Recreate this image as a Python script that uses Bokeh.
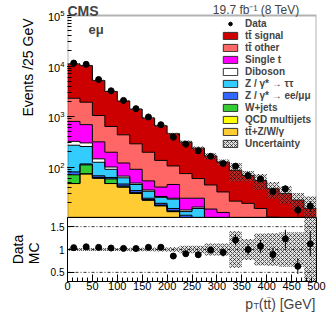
import numpy as np
from math import log10
from bokeh.plotting import figure
from bokeh.layouts import column
from bokeh.models import (Range1d, Span, Label, Legend, LegendItem, Title,
                          SingleIntervalTicker, FixedTicker, BoxAnnotation)
from bokeh.embed import file_html
from bokeh.resources import INLINE

# ---------------- data ----------------
bin_edges = [0, 25, 50, 75, 100, 125, 150, 175, 200, 225, 250,
             275, 300, 325, 350, 375, 400, 425, 450, 475, 500]

tt_signal = [8700, 8280, 4113, 2496, 1596, 1112, 739, 520, 350, 238,
             177, 121, 93, 65, 49, 39, 27, 21, 15, 9]
tt_other = [1500, 1230, 732, 438, 314, 198, 143, 95, 60, 50,
            35, 29.4, 19.5, 12, 11, 9, 5.5, 5, 4, 3.5]
single_t = [478, 390, 170, 96, 54, 42, 18, 14, 21, 10,
            8, 5.6, 5.5, 3.2, 3.3, 2.0, 1.5, 1.5, 0.9, 0.9]
diboson = [52, 45, 21, 10, 5, 3, 2, 1, 1, 1,
           1, 1, 1, 0.8, 0.7, 0.6, 0.5, 0.4, 0.4, 0.3]
z_tautau = [190, 140, 57, 28, 15, 11, 9, 6, 8, 2,
            6.5, 2, 1.4, 1.5, 1.2, 1, 0.8, 0.6, 0.5, 0.4]
z_eemumu = [10, 5, 5, 4, 4, 3, 1.5, 1.5, 1.5, 1.5,
            1.2, 0.8, 0.5, 0.4, 0.3, 0.3, 0.2, 0.2, 0.2, 0.1]
w_jets = [23, 37, 2, 11, 2, 1, 0.5, 0.5, 0.5, 0.5,
          0.3, 0.2, 0.1, 0.1, 0.1, 0.1, 0.05, 0.05, 0.05, 0.05]
qcd = [0, 0, 0, 0, 0, 0, 0, 0, 0, 0,
       0, 0, 0, 0, 0, 0, 0, 0, 0, 0]
ttv = [47, 73, 60, 47, 40, 30, 22, 17, 13, 9,
       7, 5, 4, 3, 2.4, 2, 1.5, 1.2, 1, 0.8]

data = [11450, 10800, 5400, 3230, 2080, 1430, 980, 688, 390, 283,
        209, 163, 117, 104, 68, 58, 33, 37, 14, 17]

rel_unc = [0.035, 0.035, 0.035, 0.035, 0.035, 0.04, 0.04, 0.045, 0.05, 0.08,
           0.08, 0.13, 0.13, 0.40, 0.23, 0.35, 0.36, 0.38, 0.38, 0.75]

x_ticks_interval = 50
ratio_ticks = [0.5, 1.0, 1.5]
y_min, y_max = 10.01, 1e5

# stack order: bottom -> top
layers = [
    ("t\u0074\u0304+Z/W/\u03b3", ttv, "#ffcc33"),
    ("QCD multijets", qcd, "#ffff00"),
    ("W+jets", w_jets, "#33cc33"),
    ("Z / \u03b3* \u2192 ee/\u03bc\u03bc", z_eemumu, "#3366ff"),
    ("Z / \u03b3* \u2192 \u03c4\u03c4", z_tautau, "#33ccff"),
    ("Diboson", diboson, "#ffffff"),
    ("Single t", single_t, "#ff00ff"),
    ("t\u0074\u0304 other", tt_other, "#ff6666"),
    ("t\u0074\u0304 signal", tt_signal, "#cc0000"),
]

FONT = "Liberation Sans"
W = 332
LB, RB = 67, 16            # left / right borders -> frame spans x 67..316
MAIN_H, TOP_PAD = 217, 15  # main canvas height; strip above the data box for CMS / lumi
edges = np.array(bin_edges, dtype=float)
left = edges[:-1]
right = edges[1:]
centers = (left + right) / 2

# extend the log range upward so the CMS / lumi line sits inside the frame
decade_px = (MAIN_H - TOP_PAD) / (log10(y_max) - log10(y_min))
y_top = 10 ** (log10(y_max) + TOP_PAD / decade_px)

# ---------------- main panel ----------------
p = figure(width=W, height=MAIN_H, x_range=Range1d(0, 500), y_range=Range1d(y_min, y_top),
           y_axis_type="log", output_backend="svg", toolbar_location=None,
           x_axis_location=None,
           min_border_left=LB, min_border_right=RB, min_border_top=0, min_border_bottom=0)
p.grid.visible = False
p.outline_line_color = None

bottom = np.full(len(left), 0.1)
layer_bounds = []
for name, vals, col in layers:
    top = bottom + np.array(vals, dtype=float)
    p.varea_step(x=edges, y1=np.append(bottom, bottom[-1]), y2=np.append(top, top[-1]),
                 step_mode="after", fill_color=col)
    layer_bounds.append((bottom, top))
    bottom = top
total = bottom

for b, top in layer_bounds:
    p.step(x=edges, y=np.append(top, top[-1]), mode="after", line_color="black", line_width=1)

unc = total * np.array(rel_unc)
hatch_kw = dict(hatch_pattern="diagonal_cross", hatch_color="black", hatch_scale=4,
                hatch_weight=0.7, hatch_alpha=0.85)
band = p.quad(left=left, right=right, bottom=total - unc, top=total + unc,
              fill_color="#888888", fill_alpha=0.25, line_color=None, **hatch_kw)

d = np.array(data, dtype=float)
derr = np.sqrt(d)
p.segment(x0=centers, y0=d - derr, x1=centers, y1=d + derr, line_color="black", line_width=1)
dr = p.scatter(centers, d, size=6, marker="circle", color="black")

# panel box (frame is taller than the data box)
p.add_layout(BoxAnnotation(left=0, right=500, bottom=y_min, top=y_max,
                           fill_alpha=0, line_color="black", line_width=2))

p.yaxis.axis_line_color = None
p.yaxis.major_tick_in = 7
p.yaxis.major_tick_out = 0
p.yaxis.minor_tick_in = 4
p.yaxis.minor_tick_out = 0
p.yaxis.major_label_text_font_size = "11px"
p.yaxis.major_label_text_font = FONT
p.yaxis.major_label_text_color = "black"
p.yaxis.major_label_standoff = 3

p.add_layout(Title(text="Events /25 GeV", align="right", offset=18, standoff=18,
                   text_font=FONT, text_font_size="14px", text_font_style="normal",
                   text_color="black"), "left")

# legend: hidden copies of each layer drawn with a border give the legend boxes
items = [LegendItem(label="Data", renderers=[dr])]
for (name, vals, col), (b, top) in zip(reversed(layers), reversed(layer_bounds)):
    proxy = p.quad(left=left, right=right, top=top, bottom=b, fill_color=col,
                   line_color="#333333", line_width=1, visible=False)
    items.append(LegendItem(label=name, renderers=[proxy]))
band_proxy = p.quad(left=left, right=right, bottom=total - unc, top=total + unc,
                    fill_color="#888888", fill_alpha=0.25, line_color="#333333",
                    visible=False, **hatch_kw)
items.append(LegendItem(label="Uncertainty", renderers=[band_proxy]))
leg = Legend(items=items, location=(154, 68), margin=0, padding=0, spacing=0,
             glyph_width=18, glyph_height=9, label_height=12, label_standoff=6,
             label_text_font=FONT, label_text_font_size="10px", label_text_font_style="bold",
             background_fill_alpha=0, border_line_alpha=0, inactive_fill_alpha=0)
p.add_layout(leg)

p.add_layout(Label(x=0, y=MAIN_H - 10, x_units="screen", y_units="screen", text="CMS",
                   text_font=FONT, text_font_style="bold", text_font_size="14px",
                   text_align="left", text_baseline="alphabetic"))
p.add_layout(Label(x=232, y=MAIN_H - 9, x_units="screen", y_units="screen",
                   text="19.7 fb\u207b\u00b9 (8 TeV)",
                   text_font=FONT, text_font_size="12px",
                   text_align="right", text_baseline="alphabetic"))
p.add_layout(Label(x=21, y=MAIN_H - 29, x_units="screen", y_units="screen", text="e\u03bc",
                   text_font=FONT, text_font_style="bold", text_font_size="13px",
                   text_align="left", text_baseline="alphabetic"))

# ---------------- ratio panel ----------------
r = figure(width=W, height=80, x_range=p.x_range, y_range=Range1d(0.3, 1.7),
           output_backend="svg", toolbar_location=None,
           min_border_left=LB, min_border_right=RB, min_border_top=0, min_border_bottom=16)
r.grid.visible = False
r.outline_line_color = "black"

for v in ratio_ticks:
    r.add_layout(Span(location=v, dimension="width", line_color="black",
                      line_width=0.8, line_dash="3 2 1 2"))

r.quad(left=left, right=right, bottom=1 - np.array(rel_unc), top=1 + np.array(rel_unc),
       fill_color="#888888", fill_alpha=0.25, line_color=None, **hatch_kw)

ratio = d / total
rerr = derr / total
r.segment(x0=centers, y0=ratio - rerr, x1=centers, y1=ratio + rerr, line_color="black", line_width=1)
r.scatter(centers, ratio, size=6, marker="circle", color="black")

r.xaxis.ticker = SingleIntervalTicker(interval=x_ticks_interval, num_minor_ticks=5)
r.xaxis.major_tick_in = 7
r.xaxis.major_tick_out = 0
r.xaxis.minor_tick_in = 4
r.xaxis.minor_tick_out = 0
r.xaxis.major_label_text_font_size = "11px"
r.xaxis.major_label_text_font = FONT
r.xaxis.major_label_text_color = "black"
r.xaxis.major_label_standoff = 0

r.yaxis.ticker = FixedTicker(ticks=ratio_ticks, minor_ticks=[])
r.yaxis.major_label_overrides = {1: "1"}
r.yaxis.major_tick_in = 7
r.yaxis.major_tick_out = 0
r.yaxis.minor_tick_in = 0
r.yaxis.minor_tick_out = 0
r.yaxis.major_label_text_font_size = "10px"
r.yaxis.major_label_text_font = FONT
r.yaxis.major_label_text_color = "black"
r.yaxis.major_label_standoff = 3

r.add_layout(Title(text="Data\nMC", align="center", offset=3, standoff=11,
                   text_font=FONT, text_font_size="14px", text_font_style="normal",
                   text_line_height=1.0, text_color="black"), "left")

# ---------------- bottom strip: x-axis title ----------------
cap = figure(width=W, height=23, x_range=Range1d(0, 1), y_range=Range1d(0, 1),
             output_backend="svg", toolbar_location=None,
             x_axis_location=None, y_axis_location=None,
             min_border_left=LB, min_border_right=RB, min_border_top=0, min_border_bottom=0)
cap.grid.visible = False
cap.outline_line_color = None
cap.add_layout(Label(x=248, y=17, x_units="screen", y_units="screen",
                     text="(t\u0074\u0304) [GeV]",
                     text_font=FONT, text_font_size="14px", text_align="right",
                     text_baseline="alphabetic"))
cap.add_layout(Label(x=186, y=14.5, x_units="screen", y_units="screen", text="T",
                     text_font=FONT, text_font_size="9px", text_align="left",
                     text_baseline="alphabetic"))
cap.add_layout(Label(x=185.5, y=17, x_units="screen", y_units="screen", text="p",
                     text_font=FONT, text_font_size="14px", text_align="right",
                     text_baseline="alphabetic"))

layout = column(p, r, cap, spacing=0)
open("out.html", "w").write(file_html(layout, INLINE))
